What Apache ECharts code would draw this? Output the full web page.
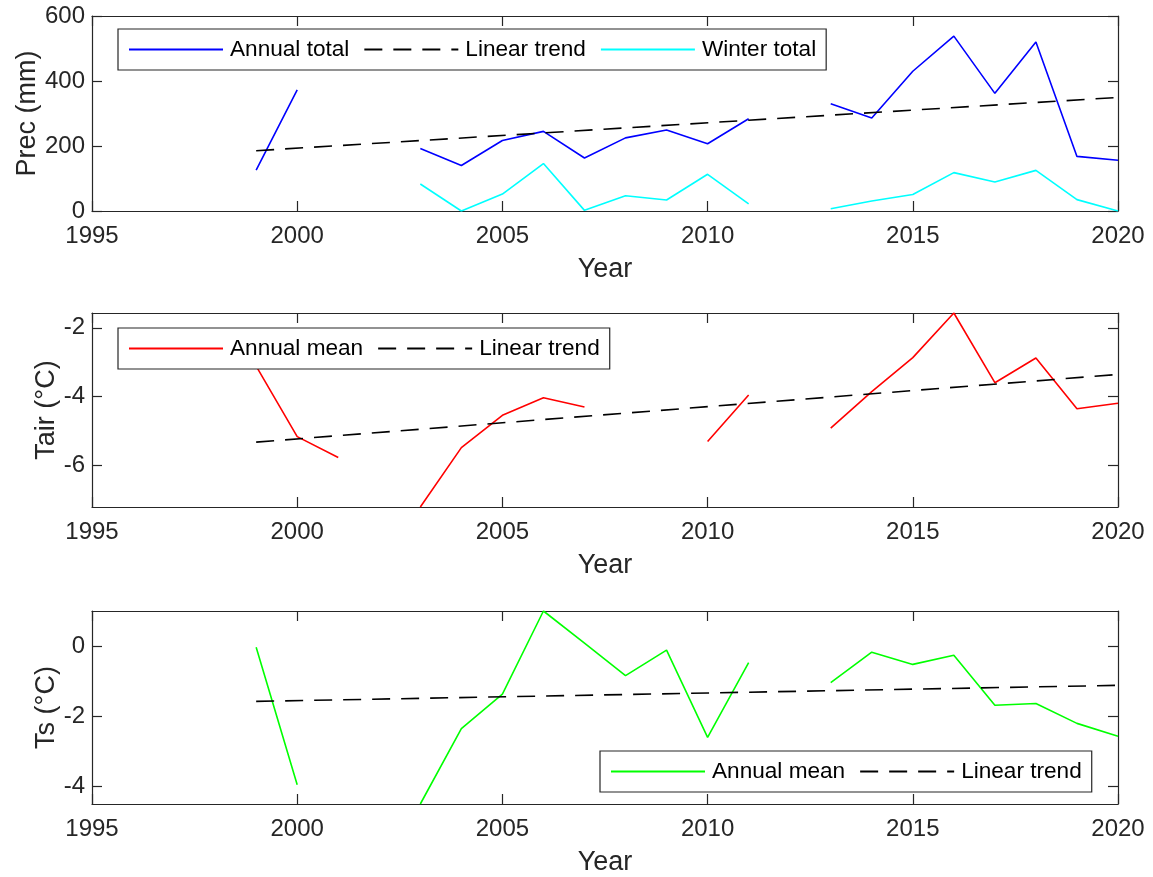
<!DOCTYPE html>
<html>
<head>
<meta charset="utf-8">
<script src="https://cdn.jsdelivr.net/npm/echarts@6/dist/echarts.min.js"></script>
<style>
html,body{margin:0;padding:0;background:#fff;}
#chart{width:1153px;height:877px;}
</style>
</head>
<body>
<div id="chart"></div>
<script>
// ---- data ----
var years = [1999,2000,2001,2002,2003,2004,2005,2006,2007,2008,2009,2010,2011,2012,2013,2014,2015,2016,2017,2018,2019,2020];
var precAnnual = [126,373,null,null,192,140,217,245,163,225,249,207,284,null,330,286,430,538,362,520,168,156];
var precWinter = [null,null,null,null,83,0,52,146,2,47,34,113,22,null,7,31,51,118,89,125,35,0];
var tairAnnual = [-3.12,-5.17,-5.78,null,-7.22,-5.49,-4.55,-4.04,-4.31,null,null,-5.31,-3.96,null,-4.92,-3.86,-2.87,-1.57,-3.60,-2.88,-4.36,-4.20];
var tsAnnual = [-0.02,-3.96,null,null,-4.51,-2.35,-1.36,1.02,0.10,-0.83,-0.10,-2.60,-0.46,null,-1.03,-0.16,-0.51,-0.25,-1.68,-1.63,-2.20,-2.57];
var trendYears = [1999,2020];
var precTrend = [185.5,349.5];
var tairTrend = [-5.33,-3.36];
var tsTrend = [-1.57,-1.11];
var xTicks = [1995,2000,2005,2010,2015,2020];
var precTicks = [0,200,400,600];
var tairTicks = [-6,-4,-2];
var tsTicks = [-4,-2,0];

function pairs(xs, vs){ return xs.map(function(x,i){ return [x, vs[i]==null ? '-' : vs[i]]; }); }
function vmin(a){ return Math.min.apply(null, a.filter(function(v){return v!=null;})); }
function vmax(a){ return Math.max.apply(null, a.filter(function(v){return v!=null;})); }

var FONT = "'Liberation Sans', Arial, Helvetica, sans-serif";
var AX = '#262626';
var grids = [
  {left:92, top:16, width:1026, height:195},
  {left:92, top:313, width:1026, height:194},
  {left:92, top:611, width:1026, height:194}
];
var yDefs = [
  {name:'Prec (mm)', min:0, max:600, ticks:precTicks, gap:51},
  {name:'Tair (°C)', min:vmin(tairAnnual), max:vmax(tairAnnual), ticks:tairTicks, gap:32},
  {name:'Ts (°C)', min:vmin(tsAnnual), max:vmax(tsAnnual), ticks:tsTicks, gap:32}
];

var xAxes = [], yAxes = [];
grids.forEach(function(g, i){
  xAxes.push({
    type:'value', gridIndex:i, position:'bottom', min:1995, max:2020, interval:5,
    name:'Year', nameLocation:'middle', nameGap:45, nameMoveOverlap:false,
    nameTextStyle:{fontSize:27, color:AX, fontFamily:FONT},
    axisLine:{show:true, onZero:false, lineStyle:{color:AX, width:1.2}},
    axisTick:{show:true, inside:true, length:10, customValues:xTicks, lineStyle:{color:AX, width:1.2}},
    axisLabel:{show:true, fontSize:24, color:AX, fontFamily:FONT, margin:13, showMinLabel:true, showMaxLabel:true,
      customValues:xTicks, formatter:function(v){return String(v);}},
    splitLine:{show:false}
  });
  xAxes.push({
    type:'value', gridIndex:i, position:'top', min:1995, max:2020, interval:5,
    axisLine:{show:true, onZero:false, lineStyle:{color:AX, width:1.2}},
    axisTick:{show:true, inside:true, length:10, customValues:xTicks, lineStyle:{color:AX, width:1.2}},
    axisLabel:{show:false}, splitLine:{show:false}
  });
  var d = yDefs[i];
  yAxes.push({
    type:'value', gridIndex:i, position:'left', min:d.min, max:d.max,
    name:d.name, nameLocation:'middle', nameGap:d.gap, nameMoveOverlap:false,
    nameTextStyle:{fontSize:27, color:AX, fontFamily:FONT},
    axisLine:{show:true, onZero:false, lineStyle:{color:AX, width:1.2}},
    axisTick:{show:true, inside:true, length:10, customValues:d.ticks, lineStyle:{color:AX, width:1.2}},
    axisLabel:{show:true, fontSize:24, color:AX, fontFamily:FONT, margin:7, customValues:d.ticks,
      formatter:function(v){return String(v);}},
    splitLine:{show:false}
  });
  yAxes.push({
    type:'value', gridIndex:i, position:'right', min:d.min, max:d.max,
    axisLine:{show:true, onZero:false, lineStyle:{color:AX, width:1.2}},
    axisTick:{show:true, inside:true, length:10, customValues:d.ticks, lineStyle:{color:AX, width:1.2}},
    axisLabel:{show:false}, splitLine:{show:false}
  });
});

function lineSeries(id, xi, yi, xs, vs, color, dashed){
  return {
    type:'line', name:id, xAxisIndex:xi, yAxisIndex:yi, data:pairs(xs, vs),
    symbol:'none', showSymbol:false, connectNulls:false, clip:true, animation:false,
    lineStyle:{color:color, width:1.6, type: dashed ? [18,11] : 'solid'},
    itemStyle:{color:color}, z:2
  };
}

var series = [
  lineSeries('P|Annual total', 0, 0, years, precAnnual, '#0000FF', false),
  lineSeries('P|Linear trend', 0, 0, trendYears, precTrend, '#000000', true),
  lineSeries('P|Winter total', 0, 0, years, precWinter, '#00FFFF', false),
  lineSeries('A|Annual mean', 2, 2, years, tairAnnual, '#FF0000', false),
  lineSeries('A|Linear trend', 2, 2, trendYears, tairTrend, '#000000', true),
  lineSeries('S|Annual mean', 4, 4, years, tsAnnual, '#00FF00', false),
  lineSeries('S|Linear trend', 4, 4, trendYears, tsTrend, '#000000', true)
];

function legend(names, left, top){
  return {
    show:true, orient:'horizontal', left:left, top:top, data:names,
    backgroundColor:'#fff', borderColor:AX, borderWidth:1.2, borderRadius:0,
    padding:[8,10,8,10], itemWidth:94, itemHeight:14, itemGap:14,
    selectedMode:false,
    itemStyle:{opacity:0},
    formatter:function(n){ return n.split('|')[1]; },
    textStyle:{fontSize:22.6, color:'#000', fontFamily:FONT, lineHeight:25, padding:[0,0,0,2]},
    z:10
  };
}

var option = {
  backgroundColor:'#fff',
  animation:false,
  grid: grids.map(function(g){ return Object.assign({containLabel:false, show:false}, g); }),
  xAxis: xAxes,
  yAxis: yAxes,
  legend: [
    legend(['P|Annual total','P|Linear trend','P|Winter total'], 118, 29),
    legend(['A|Annual mean','A|Linear trend'], 118, 328),
    legend(['S|Annual mean','S|Linear trend'], 600, 751)
  ],
  series: series
};

var chart = echarts.init(document.getElementById('chart'), null, {renderer:'canvas'});
chart.setOption(option);
</script>
</body>
</html>
